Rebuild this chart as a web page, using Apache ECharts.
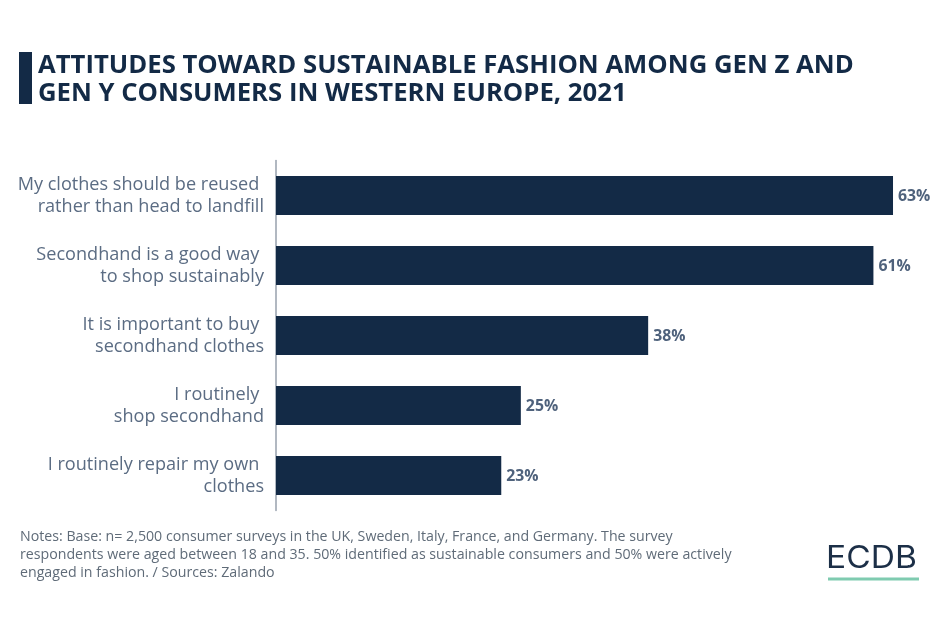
<!DOCTYPE html>
<html>
<head>
<meta charset="utf-8">
<style>
  html, body { margin: 0; padding: 0; background: #fff; }
  #chart { width: 945px; height: 622px; }
</style>
<script src="https://cdn.jsdelivr.net/npm/echarts@6/dist/echarts.min.js"></script>
</head>
<body>
<div id="chart"></div>
<script>
const categories = [
  'My clothes should be reused \nrather than head to landfill',
  'Secondhand is a good way \nto shop sustainably',
  'It is important to buy \nsecondhand clothes',
  'I routinely \nshop secondhand',
  'I routinely repair my own \nclothes'
]
const shares = [63, 61, 38, 25, 23]
const titleText = 'ATTITUDES TOWARD SUSTAINABLE FASHION AMONG GEN Z AND\nGEN Y CONSUMERS IN WESTERN EUROPE, 2021'
const notesText = 'Notes: Base: n= 2,500 consumer surveys in the UK, Sweden, Italy, France, and Germany. The survey\nrespondents were aged between 18 and 35. 50% identified as sustainable consumers and 50% were actively\nengaged in fashion. / Sources: Zalando'

const navy = '#132a46'
const font = '"Open Sans", sans-serif'

var myChart = echarts.init(document.getElementById('chart'))
var option = {
  backgroundColor: '#fff',
  animation: false,
  grid: { left: 276, top: 160.5, width: 636.6, height: 350 },
  xAxis: { type: 'value', min: 0, max: 65, show: false },
  yAxis: {
    type: 'category',
    inverse: true,
    data: categories,
    axisLine: { lineStyle: { color: '#97a1ad', width: 1.5 } },
    axisTick: { show: false },
    axisLabel: {
      margin: 12,
      align: 'right',
      fontFamily: font,
      fontSize: 18.1,
      lineHeight: 22,
      padding: [2, 0, 0, 0],
      color: '#5b6c83'
    }
  },
  series: [
    {
      type: 'bar',
      data: shares,
      barWidth: 39,
      itemStyle: { color: navy },
      label: {
        show: true,
        position: 'right',
        distance: 5,
        offset: [0, 1],
        formatter: '{c}%',
        fontFamily: font,
        fontWeight: 'bold',
        fontSize: 15.8,
        color: '#4f627c'
      }
    }
  ],
  graphic: [
    { type: 'rect', shape: { x: 19, y: 52, width: 13, height: 52 }, style: { fill: navy } },
    {
      type: 'text', x: 38, y: 52,
      style: {
        text: titleText,
        font: 'bold 25.7px ' + font,
        lineHeight: 28,
        fill: navy
      }
    },
    {
      type: 'text', x: 20, y: 528,
      style: {
        text: notesText,
        font: '14.2px ' + font,
        lineHeight: 18,
        fill: '#5f6b78'
      }
    },
    {
      type: 'text', x: 826, y: 559, scaleX: 1.1,
      style: {
        text: 'ECDB',
        font: '400 30.5px Inter, sans-serif',
        verticalAlign: 'middle',
        fill: '#1c2f47'
      }
    },
    { type: 'rect', shape: { x: 828, y: 577.5, width: 91, height: 3 }, style: { fill: '#7fcbb0' } }
  ]
}
myChart.setOption(option)
</script>
</body>
</html>
